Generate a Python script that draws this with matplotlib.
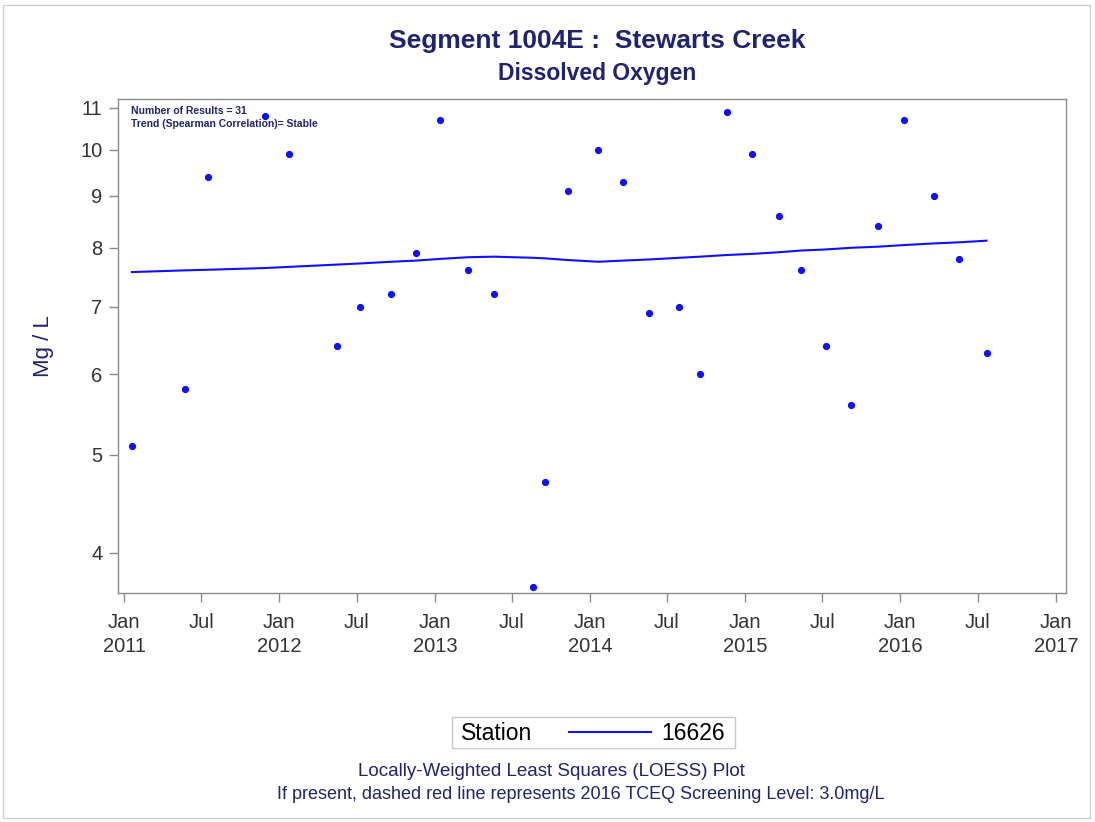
import numpy as np
import pandas as pd
import matplotlib
matplotlib.use("Agg")
import matplotlib.pyplot as plt
import matplotlib.dates as mdates
from matplotlib.ticker import FixedLocator, FuncFormatter, NullLocator
from matplotlib.patches import Rectangle
from matplotlib.lines import Line2D

plt.rcParams['font.family'] = ['Liberation Sans', 'DejaVu Sans']

# sample dates and dissolved oxygen values (mg/L)
sample_dates = [
    "2011-01-19", "2011-05-24", "2011-07-17", "2011-11-28", "2012-01-24",
    "2012-05-16", "2012-07-09", "2012-09-20", "2012-11-17", "2013-01-13",
    "2013-03-20", "2013-05-20", "2013-08-20", "2013-09-17", "2013-11-10",
    "2014-01-20", "2014-03-20", "2014-05-20", "2014-07-30", "2014-09-17",
    "2014-11-20", "2015-01-18", "2015-03-22", "2015-05-13", "2015-07-11",
    "2015-09-08", "2015-11-10", "2016-01-11", "2016-03-21", "2016-05-19",
    "2016-07-22",
]
do_values = [
    5.1, 5.8, 9.4, 10.8, 9.9,
    6.4, 7.0, 7.2, 7.9, 10.7,
    7.6, 7.2, 3.7, 4.7, 9.1,
    10.0, 9.3, 6.9, 7.0, 6.0,
    10.9, 9.9, 8.6, 7.6, 6.4,
    5.6, 8.4, 10.7, 9.0, 7.8,
    6.3,
]
# LOESS fit evaluated at the sample dates
loess_values = [
    7.57, 7.60, 7.61, 7.64, 7.66,
    7.70, 7.72, 7.75, 7.77, 7.80,
    7.83, 7.84, 7.82, 7.81, 7.78,
    7.75, 7.77, 7.79, 7.82, 7.84,
    7.87, 7.89, 7.92, 7.95, 7.97,
    8.00, 8.02, 8.05, 8.08, 8.10,
    8.13,
]
station = "16626"
n_results = 31
trend = "Stable"

navy = "#1f2370"
blue = "#1010ff"
axis_grey = "#8c8c8c"

dates = pd.to_datetime(sample_dates)

fig = plt.figure(figsize=(10.95, 8.22), dpi=100)
ax = fig.add_axes([0.108, 0.2786, 0.8655, 0.601])

ax.plot(dates, loess_values, color=blue, linewidth=1.5, zorder=2)
ax.plot(dates, do_values, 'o', color=blue, markersize=4.2, linestyle='none', zorder=3)

# y axis: log scale
ax.set_yscale('log')
ax.set_ylim(3.65, 11.22)
ax.yaxis.set_major_locator(FixedLocator([4, 5, 6, 7, 8, 9, 10, 11]))
ax.yaxis.set_major_formatter(FuncFormatter(lambda v, p: f"{v:g}"))
ax.yaxis.set_minor_locator(NullLocator())

# x axis: half-year ticks
ax.set_xlim(pd.Timestamp("2010-12-18"), pd.Timestamp("2017-01-25"))
ticks = pd.date_range("2011-01-01", "2017-01-01", freq="6MS")
ax.xaxis.set_major_locator(FixedLocator(mdates.date2num(ticks)))


def fmt_date(v, pos):
    d = mdates.num2date(v)
    if d.month == 1:
        return f"Jan\n{d.year}"
    return "Jul"


ax.xaxis.set_major_formatter(FuncFormatter(fmt_date))

for s in ax.spines.values():
    s.set_color(axis_grey)
    s.set_linewidth(1.0)
ax.tick_params(axis='both', colors=axis_grey, length=6.5, width=1.0,
               labelcolor="#333333", labelsize=14.5, pad=5)
ax.tick_params(axis='x', pad=8)
for lab in ax.get_xticklabels():
    lab.set_linespacing(1.3)

ax.set_ylabel("Mg / L", color=navy, fontsize=16, labelpad=19)

ax.text(0.013, 0.985, f"Number of Results = {n_results}\nTrend (Spearman Correlation)= {trend}",
        transform=ax.transAxes, ha='left', va='top', fontsize=7.5,
        fontweight='bold', color=navy, linespacing=1.3)

# titles
fig.text(0.545, 0.950, "Segment 1004E :  Stewarts Creek", ha='center', va='center',
         fontsize=19, fontweight='bold', color=navy)
fig.text(0.545, 0.910, "Dissolved Oxygen", ha='center', va='center',
         fontsize=16.5, fontweight='bold', color=navy)

# legend box
fig.patches.append(Rectangle((0.413, 0.09), 0.258, 0.038, transform=fig.transFigure,
                             facecolor='white', edgecolor='#c8c8c8', linewidth=1.0))
fig.text(0.421, 0.108, "Station", ha='left', va='center', fontsize=16.5, color='black')
fig.legend(handles=[Line2D([], [], color=blue, linewidth=1.5)], labels=[station],
           loc='center', bbox_to_anchor=(0.591, 0.108), frameon=False,
           fontsize=16.5, handlelength=3.6, handletextpad=0.45)

# footnotes
fig.text(0.504, 0.062, "Locally-Weighted Least Squares (LOESS) Plot",
         ha='center', va='center', fontsize=13.5, color=navy)
fig.text(0.530, 0.034, "If present, dashed red line represents 2016 TCEQ Screening Level: 3.0mg/L",
         ha='center', va='center', fontsize=13, color=navy)

# outer frame
fig.patches.append(Rectangle((0.003, 0.005), 0.992, 0.989, transform=fig.transFigure,
                             facecolor='none', edgecolor='#cfcfcf', linewidth=1.0))

fig.savefig("out.png", dpi=100)
